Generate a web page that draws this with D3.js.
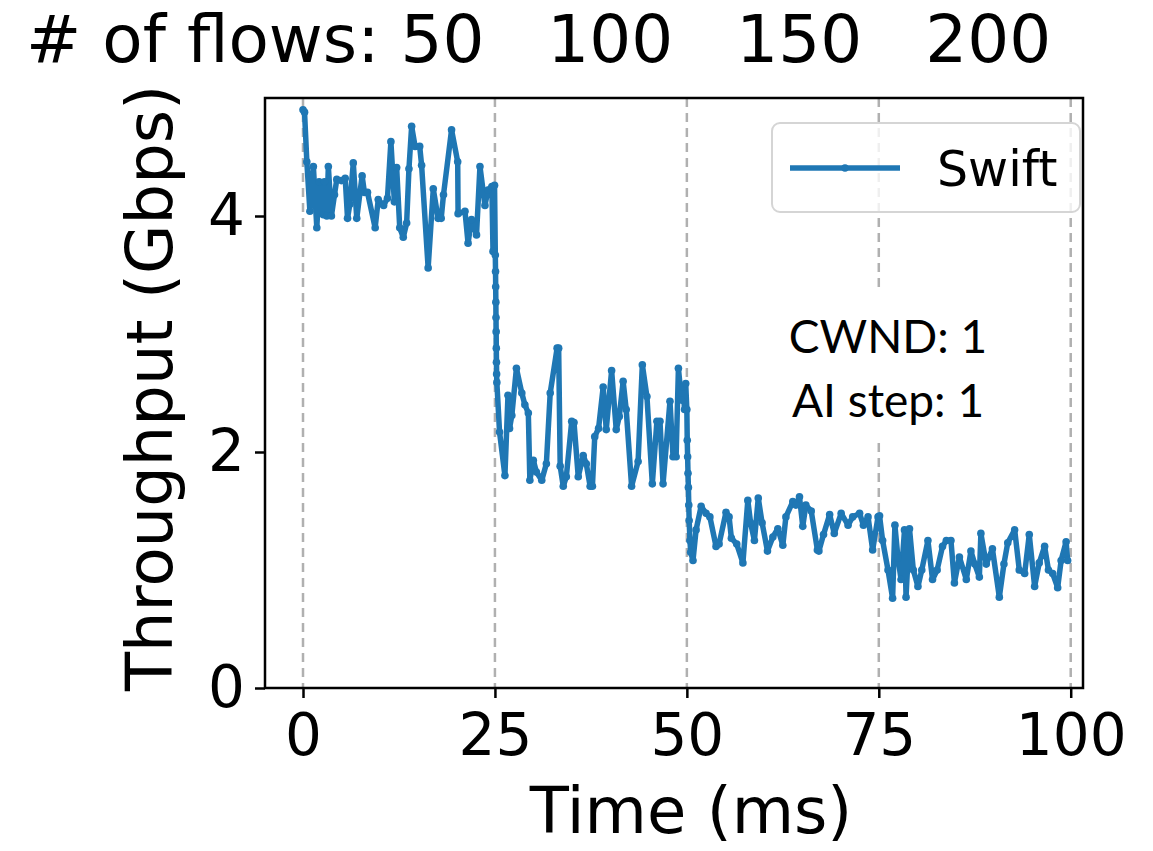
<!DOCTYPE html>
<html>
<head>
<meta charset="utf-8">
<script src="https://cdn.jsdelivr.net/npm/d3@7/dist/d3.min.js"></script>
<style>
  html, body { margin: 0; padding: 0; background: #fff; }
  svg { display: block; }
  text { font-family: "DejaVu Sans", sans-serif; fill: #000; }
</style>
</head>
<body>
<svg id="chart" width="1153" height="851"></svg>
<script>
// Swift throughput over time as the flow count steps up every 25 ms
const timeMs = [
  0, 0.2, 0.5, 0.9, 1.35, 1.8, 2.1, 2.65, 2.8, 3.1, 3.3, 3.7, 4.1, 4.4, 5.0, 5.5, 5.8, 6.1, 6.55, 7.0,
  7.7, 8.0, 8.4, 9.4, 9.8, 10.5, 11.0, 11.45, 11.9, 12.2, 12.6, 13.06, 13.5, 13.8, 14.15, 14.6, 15.2, 15.45, 16.3, 16.97,
  17.6, 18.0, 18.3, 19.35, 20.15, 20.2, 21.1, 21.5, 21.95, 22.6, 23.05, 23.7, 24.1, 24.6, 24.75, 24.95,
  25.05, 25.08, 25.1, 25.12, 25.14, 25.16, 25.18, 25.2, 25.22, 25.25,
  25.6, 26.3, 26.7, 26.9, 27.2, 27.8, 28.5, 28.9, 29.35, 29.55, 30.0, 30.4, 31.1, 31.7, 32.2, 33.1, 33.3, 33.5, 33.9, 34.3,
  35.0, 35.3, 35.85, 36.5, 36.9, 37.4, 37.7, 38.0, 38.5, 39.1, 39.5, 40.2, 40.8, 41.2, 41.7, 42.1, 42.8, 43.65, 44.2, 44.8,
  45.5, 46.1, 46.5, 46.9, 47.8, 48.2, 48.6, 48.9, 49.3, 49.5, 49.7, 49.85,
  50.0, 50.05, 50.1, 50.15, 50.2, 50.25, 50.3, 50.4, 50.5,
  50.8, 51.2, 51.86, 52.5, 53.0, 53.8, 54.2, 55.1, 55.5, 55.8, 56.5, 57.3, 57.94, 58.3, 58.8, 59.3, 59.8, 60.5, 61.2, 61.85,
  62.5, 62.9, 63.8, 64.2, 64.67, 65.1, 65.5, 66.2, 67.0, 67.2, 67.8, 68.6, 69.2, 70.1, 71.0, 71.6, 72.5, 73.0, 73.6, 74.2,
  74.9, 75.1, 75.5, 76.2, 76.8, 77.1, 77.5, 77.9, 78.35, 78.55, 79.0, 79.5, 80.1, 80.6, 81.4, 82.0, 82.6, 83.3, 83.8, 84.4,
  84.85, 85.5, 86.4, 87.0, 87.5, 88.1, 88.3, 89.0, 89.8, 90.7, 91.3, 91.8, 92.7, 93.3, 94.0, 94.6, 95.3, 95.9, 96.6, 97.1,
  97.65, 98.3, 98.75, 99.4, 99.6
];
const throughputGbps = [
  4.90, 4.88, 4.46, 4.04, 4.42, 3.90, 4.29, 4.01, 4.29, 4.00, 4.42, 4.00, 4.18, 4.31, 4.30, 4.32, 3.98, 4.10, 4.45, 3.98,
  4.34, 4.20, 4.20, 3.90, 4.14, 4.09, 4.15, 4.63, 4.12, 4.41, 3.90, 3.82, 3.94, 4.40, 4.76, 4.59, 4.59, 4.43, 3.56, 4.23,
  3.98, 3.98, 4.18, 4.73, 4.46, 4.02, 4.04, 3.77, 3.97, 3.84, 4.42, 4.09, 4.22, 4.25, 3.70, 4.26,
  3.67, 3.53, 3.40, 3.27, 3.14, 3.02, 2.88, 2.76, 2.66, 2.59,
  2.17, 1.80, 2.48, 2.20, 2.31, 2.71, 2.50, 2.40, 2.33, 1.76, 1.93, 1.83, 1.76, 1.90, 2.50, 2.88, 2.88, 1.88, 1.71, 1.79,
  2.26, 2.25, 1.79, 1.97, 1.90, 1.71, 1.71, 2.13, 2.20, 2.55, 2.19, 2.69, 2.19, 2.30, 2.60, 2.36, 1.71, 1.92, 2.74, 2.47,
  1.73, 2.26, 2.26, 1.73, 2.43, 1.96, 1.96, 2.71, 2.44, 2.55, 2.36, 2.58,
  2.36, 2.10, 1.96, 1.82, 1.70, 1.55, 1.42, 1.25, 1.15,
  1.08, 1.34, 1.54, 1.48, 1.45, 1.20, 1.22, 1.49, 1.45, 1.27, 1.22, 1.06, 1.59, 1.40, 1.25, 1.61, 1.40, 1.16, 1.28, 1.35,
  1.21, 1.45, 1.58, 1.55, 1.62, 1.37, 1.55, 1.50, 1.17, 1.16, 1.30, 1.47, 1.31, 1.48, 1.38, 1.45, 1.48, 1.38, 1.45, 1.17,
  1.45, 1.46, 1.25, 1.00, 0.76, 1.38, 1.10, 0.92, 1.34, 0.77, 1.35, 1.00, 0.86, 1.00, 1.25, 0.92, 1.00, 1.20, 1.25, 1.25,
  0.89, 1.11, 0.92, 1.16, 1.05, 0.94, 1.31, 1.05, 1.18, 0.77, 1.05, 1.23, 1.34, 1.00, 0.97, 1.30, 0.86, 1.06, 1.20, 1.00,
  0.97, 0.85, 1.08, 1.24, 1.08
];
const xTicks = [0, 25, 50, 75, 100];
const yTicks = [0, 2, 4];
const phaseBoundaries = [0, 25, 50, 75, 100];
const flowCounts = [50, 100, 150, 200];
const seriesName = "Swift";
const annotationLines = ["CWND: 1", "AI step: 1"];

const blue = "#1f77b4";
const svg = d3.select("#chart");
const plot = { left: 265, right: 1083, top: 98, bottom: 688 };

const x = d3.scaleLinear().domain([-4.95, 101.6]).range([plot.left, plot.right]);
const y = d3.scaleLinear().domain([0, 5]).range([plot.bottom, plot.top]);

const data = timeMs.map((t, i) => ({ t, v: throughputGbps[i] }));

// title row listing the number of flows in each phase
svg.append("text")
  .attr("x", 26).attr("y", 62)
  .attr("font-size", 66)
  .attr("xml:space", "preserve")
  .style("white-space", "pre")
  .text("# of flows: " + flowCounts.join("   "));

// dashed phase separators
svg.append("g").selectAll("line").data(phaseBoundaries).join("line")
  .attr("x1", d => x(d)).attr("x2", d => x(d))
  .attr("y1", plot.top).attr("y2", plot.bottom)
  .attr("stroke", "#b0b0b0").attr("stroke-width", 2.5)
  .attr("stroke-dasharray", "9,6");

// throughput line with point markers
const line = d3.line().x(d => x(d.t)).y(d => y(d.v));
svg.append("path").datum(data)
  .attr("d", line)
  .attr("fill", "none").attr("stroke", blue)
  .attr("stroke-width", 5.5).attr("stroke-linejoin", "round");
svg.append("g").selectAll("circle").data(data).join("circle")
  .attr("cx", d => x(d.t)).attr("cy", d => y(d.v)).attr("r", 3.8)
  .attr("fill", blue);

// annotation box (white fill hides the separator behind it)
const noteG = svg.append("g");
noteG.append("rect")
  .attr("x", 778).attr("y", 292).attr("width", 220).attr("height", 146)
  .attr("fill", "#fff");
noteG.selectAll("text").data(annotationLines).join("text")
  .attr("x", 888).attr("y", (d, i) => 353 + i * 64)
  .attr("text-anchor", "middle")
  .style("font-family", "Lato, 'Open Sans', sans-serif")
  .attr("font-size", 46)
  .text(d => d);

// axes
const xAxis = d3.axisBottom(x).tickValues(xTicks).tickSize(10).tickPadding(16).tickFormat(d3.format("d"));
const yAxis = d3.axisLeft(y).tickValues(yTicks).tickSize(10).tickPadding(10).tickFormat(d3.format("d"));

const gx = svg.append("g").attr("transform", `translate(0,${plot.bottom})`).call(xAxis);
const gy = svg.append("g").attr("transform", `translate(${plot.left},0)`).call(yAxis);
[gx, gy].forEach(g => {
  g.select(".domain").remove();
  g.selectAll(".tick line").attr("stroke", "#000").attr("stroke-width", 2.5);
  g.selectAll(".tick text").attr("font-size", 58).attr("font-family", "DejaVu Sans").attr("fill", "#000");
});

// frame
svg.append("rect")
  .attr("x", plot.left).attr("y", plot.top)
  .attr("width", plot.right - plot.left).attr("height", plot.bottom - plot.top)
  .attr("fill", "none").attr("stroke", "#000").attr("stroke-width", 2.5);

// axis titles
svg.append("text")
  .attr("x", 691).attr("y", 833)
  .attr("text-anchor", "middle").attr("font-size", 64)
  .text("Time (ms)");
svg.append("text")
  .attr("transform", `translate(172,${(plot.top + plot.bottom) / 2 - 5}) rotate(-90)`)
  .attr("text-anchor", "middle").attr("font-size", 64)
  .text("Throughput (Gbps)");

// legend
const lg = svg.append("g");
lg.append("rect")
  .attr("x", 772).attr("y", 123).attr("width", 308).attr("height", 89)
  .attr("rx", 8).attr("fill", "#fff").attr("fill-opacity", 0.8)
  .attr("stroke", "#d5d5d5").attr("stroke-width", 2);
lg.append("line")
  .attr("x1", 790).attr("x2", 900).attr("y1", 168).attr("y2", 168)
  .attr("stroke", blue).attr("stroke-width", 5.5);
lg.append("circle").attr("cx", 845).attr("cy", 168).attr("r", 3.8).attr("fill", blue);
lg.append("text")
  .attr("x", 937).attr("y", 186).attr("font-size", 49)
  .text(seriesName);
</script>
</body>
</html>
